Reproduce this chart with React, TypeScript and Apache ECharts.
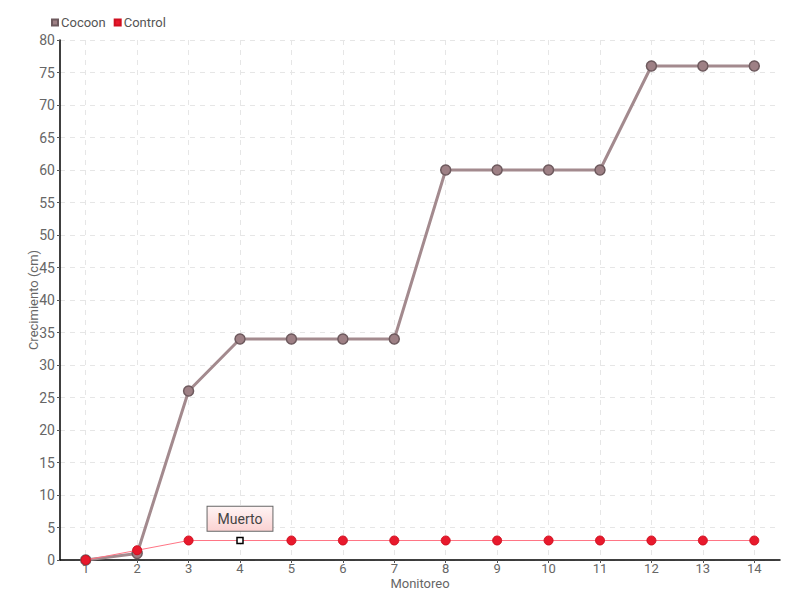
import React, { useEffect, useRef } from "react";
import * as echarts from "echarts";

const categories = ["1", "2", "3", "4", "5", "6", "7", "8", "9", "10", "11", "12", "13", "14"];
const cocoonValues = [0, 1, 26, 34, 34, 34, 34, 60, 60, 60, 60, 76, 76, 76];
const controlValues = [0, 1.5, 3, 3, 3, 3, 3, 3, 3, 3, 3, 3, 3, 3];
const deadIndex = 3;
const deadLabel = "Muerto";

const FONT = "Roboto, sans-serif";

export default function App() {
  const ref = useRef<HTMLDivElement>(null);
  useEffect(() => {
    const chart = echarts.init(ref.current!, undefined, { renderer: "svg" });
    const controlData = controlValues.map((v, i) =>
      i === deadIndex
        ? {
            value: v,
            symbol: "rect",
            symbolSize: 6,
            itemStyle: { color: "#ffffff", borderColor: "#000000", borderWidth: 1.5 },
            label: {
              show: true,
              formatter: deadLabel,
              position: "top",
              distance: 6,
              color: "#444",
              fontFamily: FONT,
              fontSize: 14,
              lineHeight: 16,
              padding: [4, 10, 4, 10],
              borderColor: "#666",
              borderWidth: 1,
              backgroundColor: {
                type: "linear",
                x: 0, y: 0, x2: 0, y2: 1,
                colorStops: [
                  { offset: 0, color: "#fff4f4" },
                  { offset: 1, color: "#fbd2d2" },
                ],
              },
            },
          }
        : v
    );
    chart.setOption({
      animation: false,
      textStyle: { fontFamily: FONT },
      legend: {
        left: 46,
        top: 11,
        itemWidth: 6,
        itemHeight: 6,
        itemGap: 8,
        icon: "rect",
        textStyle: { color: "#555", fontSize: 13, fontFamily: FONT, padding: [0, 0, 0, -2] },
        data: ["Cocoon", "Control"],
      },
      grid: { left: 60, right: 20, top: 40, bottom: 40, outerBoundsMode: "none", containLabel: false },
      xAxis: {
        type: "category",
        data: categories,
        boundaryGap: true,
        name: "Monitoreo",
        nameLocation: "middle",
        nameGap: 16,
        nameMoveOverlap: false,
        nameTextStyle: { color: "#666", fontSize: 13, lineHeight: 14, fontFamily: FONT },
        axisLine: { lineStyle: { color: "#000", width: 1.5 } },
        axisTick: { show: true, alignWithLabel: true, length: 3, lineStyle: { color: "#555" } },
        axisLabel: { color: "#666", fontSize: 13, lineHeight: 12, fontFamily: FONT, margin: 2 },
        splitLine: {
          show: true,
          alignWithLabel: true,
          lineStyle: { color: "#e6e6e6", type: [5, 5] },
        },
      },
      yAxis: {
        type: "value",
        min: 0,
        max: 80,
        interval: 5,
        name: "Crecimiento (cm)",
        nameLocation: "middle",
        nameGap: 20,
        nameMoveOverlap: false,
        nameTextStyle: { color: "#666", fontSize: 13, fontFamily: FONT },
        axisLine: { show: true, lineStyle: { color: "#000", width: 1.5 } },
        axisTick: { show: true, length: 3, lineStyle: { color: "#555" } },
        axisLabel: { color: "#666", fontSize: 14, fontFamily: FONT, margin: 5 },
        splitLine: { show: true, lineStyle: { color: "#e6e6e6", type: [5, 5] } },
      },
      series: [
        {
          name: "Cocoon",
          type: "line",
          data: cocoonValues,
          symbol: "circle",
          symbolSize: 10,
          lineStyle: { color: "#a38a8e", width: 3 },
          itemStyle: { color: "#9e8085", borderColor: "#6e5a5e", borderWidth: 1.5 },
          z: 2,
        },
        {
          name: "Control",
          type: "line",
          data: controlData,
          symbol: "circle",
          symbolSize: 9,
          lineStyle: { color: "#ff7585", width: 1 },
          itemStyle: { color: "#e8192c", borderColor: "#d01020", borderWidth: 1 },
          z: 3,
        },
      ],
    });
    return () => chart.dispose();
  }, []);
  return <div ref={ref} style={{ width: 800, height: 600, position: "absolute", left: 0, top: 0 }} />;
}
